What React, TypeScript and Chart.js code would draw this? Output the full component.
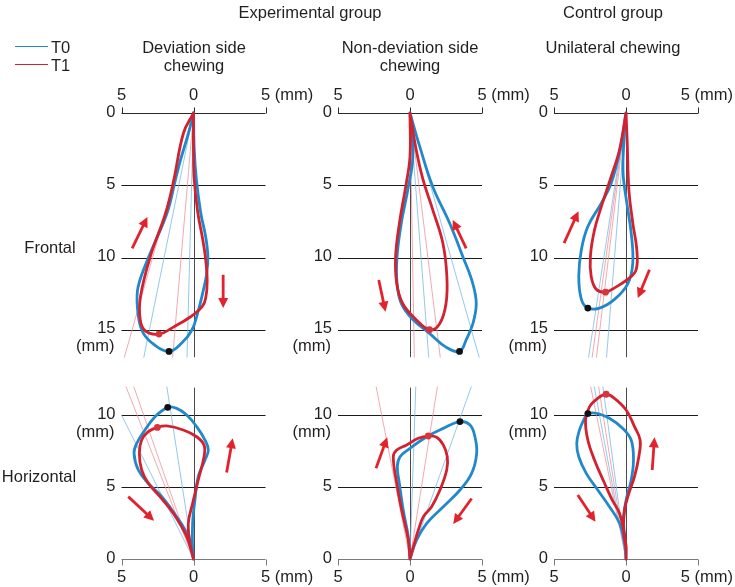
import React, { useEffect, useRef } from "react";
import { Chart, registerables } from "chart.js";

Chart.register(...registerables);

type P = [number, number];

// ---------------- Titles / labels ----------------
const groupTitles = ["Experimental group", "Control group"];
const panelTitles = [["Deviation side", "chewing"], ["Non-deviation side", "chewing"], ["Unilateral chewing"]];
const rowTitles = ["Frontal", "Horizontal"];
const seriesNames = ["T0", "T1"];
const frontalTicks = [0, 5, 10, 15];
const horizontalTicks = [0, 5, 10];
const xTicks = [-5, 0, 5];

// ---------------- Frontal view, deviation side chewing ----------------
const devFrontalT0: P[] = [[0, 0], [0.05, 2.5], [0.2, 4.6], [0.5, 6.9], [0.85, 8.6], [1.0, 10], [0.9, 11.2], [0.7, 12.2], [0.3, 13.8], [-0.1, 15], [-0.8, 15.9], [-1.7, 16.5], [-2.9, 15.9], [-3.6, 15], [-3.9, 13.4], [-3.84, 12], [-3.1, 9.94], [-1.83, 6.9], [-1.25, 4.6], [-0.9, 3.25], [-0.35, 1.4], [0, 0]];
const devFrontalT1: P[] = [[0, 0], [0.0, 2.5], [0.05, 4.6], [0.3, 6.9], [0.65, 8.8], [0.83, 10], [0.95, 11.6], [0.85, 12.8], [0.6, 13.4], [-0.2, 14.1], [-1.37, 14.8], [-2.4, 15.3], [-3.33, 15.1], [-3.7, 14.3], [-3.68, 12.7], [-3.0, 9.94], [-1.94, 6.94], [-1.37, 4.64], [-0.7, 1.4], [0, 0]];
const devFrontalDots: P[] = [[-1.7, 16.5], [-2.4, 15.3]];
const devFrontalThinBlue: P[] = [[-3.45, 16.9], [-0.45, 16.9]];
const devFrontalThinRed: P[] = [[-4.8, 16.9], [-1.45, 16.9]];
const devFrontalArrows: P[][] = [[[-4.26, 9.37], [-3.2, 7.2]], [[2.06, 11.2], [2.06, 13.5]]];

// ---------------- Frontal view, non-deviation side chewing ----------------
const nonFrontalT0: P[] = [[0, 0], [0.2, 3.0], [-0.15, 5.3], [-0.6, 7.6], [-0.9, 9.94], [-0.9, 11.8], [-0.6, 13.2], [0.2, 14.3], [1.35, 15.25], [2.5, 16.2], [3.44, 16.5], [3.9, 15.7], [4.36, 14.6], [4.6, 13.2], [4.36, 11.8], [3.67, 9.94], [2.74, 7.6], [1.58, 5.1], [0.7, 2.4], [0, 0]];
const nonFrontalT1: P[] = [[0, 0], [0, 3], [-0.26, 4.87], [-0.73, 7.6], [-1.0, 9.94], [-0.92, 11.8], [-0.5, 13.2], [0.43, 14.3], [1.35, 15.0], [2.05, 14.6], [2.5, 13.2], [2.56, 11.3], [2.28, 9.0], [1.58, 6.7], [0.9, 4.6], [0.43, 2.55], [0, 0]];
const nonFrontalDots: P[] = [[3.44, 16.5], [1.35, 15.0]];
const nonFrontalThinBlue: P[] = [[1.3, 16.9], [4.8, 16.9]];
const nonFrontalThinRed: P[] = [[0.3, 16.9], [2.1, 16.9]];
const nonFrontalArrows: P[][] = [[[3.9, 9.37], [2.97, 7.4]], [[-2.17, 11.56], [-1.7, 13.75]]];

// ---------------- Frontal view, control unilateral chewing ----------------
const ctlFrontalT0: P[] = [[0, 0], [-0.4, 2.5], [-1.03, 4.87], [-1.72, 6.25], [-2.65, 7.85], [-3.1, 9.46], [-3.28, 11.3], [-3.1, 12.9], [-2.65, 13.5], [-1.84, 13.5], [-0.8, 12.9], [0.13, 11.8], [0.47, 10.4], [0.36, 8.3], [0.06, 6.25], [-0.2, 4.2], [-0.15, 2.0], [0, 0]];
const ctlFrontalT1: P[] = [[0, 0], [0.08, 1.85], [0.2, 5.3], [0.47, 7.6], [0.75, 9.46], [0.7, 10.85], [0.13, 11.5], [-0.8, 12.1], [-1.42, 12.4], [-2.07, 12.2], [-2.42, 11.3], [-2.47, 9.9], [-2.19, 8.1], [-1.72, 6.5], [-1.03, 4.4], [-0.45, 2.54], [0, 0]];
const ctlFrontalDots: P[] = [[-2.65, 13.5], [-1.42, 12.4]];
const ctlFrontalThinBlue: P[] = [[-2.6, 16.9], [-1.35, 16.9]];
const ctlFrontalThinRed: P[] = [[-2.35, 16.9], [-2.05, 16.9]];
const ctlFrontalArrows: P[][] = [[[-4.3, 9.0], [-3.3, 6.8]], [[1.63, 10.85], [0.82, 12.8]]];

// ---------------- Horizontal view, deviation side chewing ----------------
const devHorizT0: P[] = [[0, 0], [-0.36, 1.55], [-1.17, 2.94], [-2.2, 4.33], [-3.14, 5.26], [-3.83, 6.18], [-4.13, 7.34], [-3.94, 8.03], [-3.37, 8.96], [-2.67, 9.88], [-1.79, 10.53], [-1.17, 10.46], [-0.47, 10.0], [0.22, 9.19], [0.8, 8.26], [1.03, 7.57], [0.8, 6.88], [0.33, 5.72], [0.1, 4.1], [-0.06, 2.48], [-0.06, 0.63], [0, 0]];
const devHorizT1: P[] = [[0, 0], [-0.47, 1.55], [-1.4, 3.17], [-2.33, 4.33], [-3.14, 5.26], [-3.6, 6.18], [-3.76, 7.34], [-3.6, 8.26], [-3.14, 8.84], [-2.51, 9.14], [-1.86, 9.24], [-0.71, 8.96], [0.22, 8.49], [0.73, 7.92], [0.73, 7.1], [0.33, 5.49], [-0.06, 3.87], [-0.36, 2.48], [-0.24, 1.09], [0, 0]];
const devHorizDots: P[] = [[-1.79, 10.53], [-2.51, 9.14]];
const devHorizThinBlue: P[] = [[-5.0, 10.0], [-1.85, 11.95]];
const devHorizThinRed: P[] = [[-4.68, 11.95], [-4.14, 11.95]];
const devHorizArrows: P[][] = [[[-4.53, 4.33], [-2.74, 2.66]], [[2.3, 6.0], [2.72, 8.38]]];

// ---------------- Horizontal view, non-deviation side chewing ----------------
const nonHorizT0: P[] = [[0, 0], [-0.12, 1.55], [-0.47, 3.4], [-0.74, 5.26], [-0.88, 6.41], [-0.69, 7.1], [0, 7.68], [1.16, 8.49], [2.31, 9.07], [3.47, 9.54], [4.17, 9.3], [4.51, 8.49], [4.63, 7.34], [4.28, 5.95], [3.47, 4.79], [2.31, 3.63], [1.16, 2.48], [0.46, 1.32], [0, 0]];
const nonHorizT1: P[] = [[0, 0], [-0.12, 1.32], [-0.58, 3.4], [-0.92, 5.26], [-1.16, 7.1], [-0.92, 7.57], [-0.23, 7.92], [0.58, 8.38], [1.27, 8.54], [1.85, 8.45], [2.31, 7.92], [2.59, 7.1], [2.55, 6.18], [2.08, 4.79], [1.5, 3.63], [0.93, 2.94], [0.58, 2.01], [0.3, 1.09], [0, 0]];
const nonHorizDots: P[] = [[3.47, 9.54], [1.27, 8.54]];
const nonHorizThinBlue: P[] = [[0.4, 11.95], [4.25, 11.95]];
const nonHorizThinRed: P[] = [[-2.35, 11.95], [1.9, 11.95]];
const nonHorizArrows: P[][] = [[[-2.36, 6.3], [-1.58, 8.45]], [[4.28, 4.2], [3.0, 2.43]]];

// ---------------- Horizontal view, control unilateral chewing ----------------
const ctlHorizT0: P[] = [[0, 0], [-0.1, 1.09], [-0.45, 2.48], [-1.15, 3.63], [-1.96, 4.79], [-2.76, 5.95], [-3.28, 7.1], [-3.42, 8.03], [-3.23, 8.96], [-2.88, 9.77], [-2.65, 10.1], [-1.96, 10.1], [-1.15, 9.77], [-0.22, 9.07], [0.36, 8.26], [0.52, 6.88], [0.36, 5.49], [0.06, 4.33], [-0.17, 2.94], [-0.1, 1.55], [0, 0]];
const ctlHorizT1: P[] = [[0, 0], [0.01, 0.86], [-0.17, 2.01], [-0.45, 3.17], [-0.96, 4.1], [-1.49, 5.26], [-2.19, 6.88], [-2.65, 8.26], [-2.81, 9.65], [-2.53, 10.58], [-1.96, 11.16], [-1.38, 11.44], [-0.8, 11.16], [0.01, 10.35], [0.59, 9.19], [0.98, 8.26], [0.89, 7.1], [0.59, 5.72], [0.2, 4.56], [-0.1, 3.4], [-0.17, 2.01], [0.01, 0.63], [0, 0]];
const ctlHorizDots: P[] = [[-2.65, 10.1], [-1.38, 11.44]];
const ctlHorizThinBlue: P[] = [[-2.2, 11.95], [-1.6, 11.95]];
const ctlHorizThinRed: P[] = [[-2.45, 11.95], [-1.9, 11.95]];
const ctlHorizArrows: P[][] = [[[-3.35, 4.44], [-2.12, 2.59]], [[1.82, 6.18], [1.98, 8.45]]];

// ---------------- Styling ----------------
const FONT = '"Liberation Sans", Arial, Helvetica, sans-serif';
const FONT_SIZE = 16.5;
const TEXT = "#231f20";
const BLUE = "#2189cb";
const RED = "#d22230";
const ARROW = "#e2232c";
const DOT0 = "#111111";
const DOT1 = "#d9343c";
const THIN_BLUE = "rgba(120,188,230,0.8)";
const THIN_RED = "rgba(238,140,150,0.75)";
const W = 735;
const H = 587;
const centers = [193.5, 410, 626];
const HALF = 72; // half width of the -5..5 range in px
const FRONT_TOP = 113;
const FRONT_MAX = 16.9;
const FRONT_PPM = 14.45;
const HOR_BOTTOM = 559;
const HOR_MAX = 11.9;
const HOR_PPM = 14.4;

type View = "frontal" | "horizontal";
interface PanelDef {
  view: View;
  col: number;
  t0: P[];
  t1: P[];
  dots: P[];
  thinBlue: P[];
  thinRed: P[];
  arrows: P[][];
}

const panels: PanelDef[] = [
  { view: "frontal", col: 0, t0: devFrontalT0, t1: devFrontalT1, dots: devFrontalDots, thinBlue: devFrontalThinBlue, thinRed: devFrontalThinRed, arrows: devFrontalArrows },
  { view: "frontal", col: 1, t0: nonFrontalT0, t1: nonFrontalT1, dots: nonFrontalDots, thinBlue: nonFrontalThinBlue, thinRed: nonFrontalThinRed, arrows: nonFrontalArrows },
  { view: "frontal", col: 2, t0: ctlFrontalT0, t1: ctlFrontalT1, dots: ctlFrontalDots, thinBlue: ctlFrontalThinBlue, thinRed: ctlFrontalThinRed, arrows: ctlFrontalArrows },
  { view: "horizontal", col: 0, t0: devHorizT0, t1: devHorizT1, dots: devHorizDots, thinBlue: devHorizThinBlue, thinRed: devHorizThinRed, arrows: devHorizArrows },
  { view: "horizontal", col: 1, t0: nonHorizT0, t1: nonHorizT1, dots: nonHorizDots, thinBlue: nonHorizThinBlue, thinRed: nonHorizThinRed, arrows: nonHorizArrows },
  { view: "horizontal", col: 2, t0: ctlHorizT0, t1: ctlHorizT1, dots: ctlHorizDots, thinBlue: ctlHorizThinBlue, thinRed: ctlHorizThinRed, arrows: ctlHorizArrows },
];

const toXY = (pts: P[]) => pts.map(([x, y]) => ({ x, y }));

const panelPlugin = {
  id: "panelAxes",
  beforeDatasetsDraw(chart: any, _args: any, opts: any) {
    const { ctx } = chart;
    const xs = chart.scales.x;
    const ys = chart.scales.y;
    const view: View = opts.view;
    const xl = xs.getPixelForValue(-5);
    const xr = xs.getPixelForValue(5);
    const x0 = Math.round(xs.getPixelForValue(0)) + 0.5;
    const y0 = Math.round(ys.getPixelForValue(0)) + 0.5;
    const yEnd = ys.getPixelForValue(ys.max);
    const line = (a: number, b: number, c: number, d: number) => {
      ctx.beginPath();
      ctx.moveTo(a, b);
      ctx.lineTo(c, d);
      ctx.stroke();
    };
    ctx.save();
    ctx.lineWidth = 1;
    const grid = view === "frontal" ? frontalTicks : horizontalTicks;
    // horizontal grid lines
    ctx.strokeStyle = "#1a1a1a";
    grid.forEach((g) => {
      if (g === 0) return;
      const py = Math.round(ys.getPixelForValue(g)) + 0.5;
      line(xl, py, xr, py);
    });
    // zero vertical line
    ctx.strokeStyle = "#4a4a4a";
    line(x0, y0, x0, yEnd);
    // axis at 0 with ticks
    ctx.strokeStyle = view === "frontal" ? "#2a2a2a" : "#7a7a7a";
    line(xl, y0, xr, y0);
    const dir = view === "frontal" ? -1 : 1;
    xTicks.forEach((t) => {
      const px = Math.round(xs.getPixelForValue(t)) + 0.5;
      line(px, y0, px, y0 + dir * 6);
    });
    // tick labels
    ctx.fillStyle = TEXT;
    ctx.font = `${FONT_SIZE}px ${FONT}`;
    ctx.textBaseline = "middle";
    const ly = view === "frontal" ? y0 - 18 : y0 + 18;
    const maxRight = chart.width - 2;
    xTicks.forEach((t, i) => {
      const px = xs.getPixelForValue(t);
      const s = String(Math.abs(t));
      if (i === xTicks.length - 1) {
        const full = s + " (mm)";
        const w = ctx.measureText(s).width;
        const fw = ctx.measureText(full).width;
        let start = px - w / 2;
        if (start + fw > maxRight) start = maxRight - fw;
        ctx.textAlign = "left";
        ctx.fillText(full, start, ly);
      } else {
        ctx.textAlign = "center";
        ctx.fillText(s, px, ly);
      }
    });
    // left labels
    ctx.textAlign = "right";
    grid.forEach((g, i) => {
      const py = ys.getPixelForValue(g);
      ctx.fillText(String(g), xl - 6, py - 1);
      if (i === grid.length - 1) ctx.fillText("(mm)", xl - 7, py + 17);
    });
    ctx.restore();
  },
  afterDatasetsDraw(chart: any) {
    const { ctx } = chart;
    chart.data.datasets.forEach((ds: any, i: number) => {
      if (!ds.arrow) return;
      const meta = chart.getDatasetMeta(i);
      const a = meta.data[0];
      const b = meta.data[1];
      if (!a || !b) return;
      const ang = Math.atan2(b.y - a.y, b.x - a.x);
      const head = 10;
      const half = 5;
      const cx = Math.cos(ang);
      const sy = Math.sin(ang);
      ctx.save();
      ctx.strokeStyle = ARROW;
      ctx.fillStyle = ARROW;
      ctx.lineWidth = 2.8;
      ctx.beginPath();
      ctx.moveTo(a.x, a.y);
      ctx.lineTo(b.x - cx * head * 0.8, b.y - sy * head * 0.8);
      ctx.stroke();
      const bx = b.x - cx * head;
      const by = b.y - sy * head;
      ctx.beginPath();
      ctx.moveTo(b.x, b.y);
      ctx.lineTo(bx - sy * half, by + cx * half);
      ctx.lineTo(bx + sy * half, by - cx * half);
      ctx.closePath();
      ctx.fill();
      ctx.restore();
    });
  },
};

function buildConfig(p: PanelDef): any {
  const c = centers[p.col];
  const frontal = p.view === "frontal";
  const padding = frontal
    ? { left: c - HALF, right: W - (c + HALF), top: FRONT_TOP, bottom: H - (FRONT_TOP + FRONT_MAX * FRONT_PPM) }
    : { left: c - HALF, right: W - (c + HALF), top: HOR_BOTTOM - HOR_MAX * HOR_PPM, bottom: H - HOR_BOTTOM };
  const datasets: any[] = [];
  p.thinRed.forEach((e) =>
    datasets.push({ data: toXY([[0, 0], e]), showLine: true, borderColor: THIN_RED, borderWidth: 1, pointRadius: 0, order: 6, clip: false })
  );
  p.thinBlue.forEach((e) =>
    datasets.push({ data: toXY([[0, 0], e]), showLine: true, borderColor: THIN_BLUE, borderWidth: 1, pointRadius: 0, order: 5, clip: false })
  );
  datasets.push({ label: seriesNames[0], data: toXY(p.t0), showLine: true, borderColor: BLUE, borderWidth: 2.8, tension: 0.4, pointRadius: 0, order: 4, clip: false });
  datasets.push({ label: seriesNames[1], data: toXY(p.t1), showLine: true, borderColor: RED, borderWidth: 2.8, tension: 0.4, pointRadius: 0, order: 3, clip: false });
  datasets.push({ data: toXY([p.dots[0]]), showLine: false, pointRadius: 3.4, pointBackgroundColor: DOT0, pointBorderWidth: 0, order: 1, clip: false });
  datasets.push({ data: toXY([p.dots[1]]), showLine: false, pointRadius: 3.4, pointBackgroundColor: DOT1, pointBorderWidth: 0, order: 1, clip: false });
  p.arrows.forEach((a) =>
    datasets.push({ data: toXY(a), arrow: true, showLine: false, pointRadius: 0, order: 0, clip: false })
  );
  return {
    type: "scatter",
    data: { datasets },
    options: {
      responsive: false,
      animation: false,
      events: [],
      layout: { padding },
      scales: {
        x: { type: "linear", min: -5, max: 5, display: false },
        y: { type: "linear", min: 0, max: frontal ? FRONT_MAX : HOR_MAX, reverse: frontal, display: false },
      },
      elements: { line: { capBezierPoints: false, borderCapStyle: "round", borderJoinStyle: "round" } },
      plugins: { legend: { display: false }, tooltip: { enabled: false }, title: { display: false }, panelAxes: { view: p.view } },
    },
    plugins: [panelPlugin],
  };
}

const textStyle: React.CSSProperties = {
  position: "absolute",
  transform: "translate(-50%, -50%)",
  whiteSpace: "nowrap",
  fontFamily: FONT,
  fontSize: FONT_SIZE,
  color: TEXT,
  lineHeight: "18px",
  textAlign: "center",
};

export default function App() {
  const refs = useRef<(HTMLCanvasElement | null)[]>([]);
  useEffect(() => {
    const charts = panels.map((p, i) => new Chart(refs.current[i] as HTMLCanvasElement, buildConfig(p)));
    return () => charts.forEach((c) => c.destroy());
  }, []);

  return (
    <div style={{ position: "absolute", left: 0, top: 0, width: W, height: H, background: "#fff", overflow: "hidden" }}>
      {panels.map((_, i) => (
        <canvas
          key={i}
          ref={(el) => {
            refs.current[i] = el;
          }}
          width={W}
          height={H}
          style={{ position: "absolute", left: 0, top: 0, width: W, height: H }}
        />
      ))}
      <div style={{ ...textStyle, left: 310, top: 12 }}>{groupTitles[0]}</div>
      <div style={{ ...textStyle, left: 613, top: 12 }}>{groupTitles[1]}</div>
      <div style={{ ...textStyle, left: 194, top: 56 }}>
        {panelTitles[0][0]}
        <br />
        {panelTitles[0][1]}
      </div>
      <div style={{ ...textStyle, left: 410, top: 56 }}>
        {panelTitles[1][0]}
        <br />
        {panelTitles[1][1]}
      </div>
      <div style={{ ...textStyle, left: 613, top: 47 }}>{panelTitles[2][0]}</div>
      <div style={{ ...textStyle, left: 50, top: 247 }}>{rowTitles[0]}</div>
      <div style={{ ...textStyle, left: 39, top: 476 }}>{rowTitles[1]}</div>
      <div style={{ position: "absolute", left: 15, top: 46, width: 33, borderTop: `1.5px solid ${BLUE}` }} />
      <div style={{ position: "absolute", left: 15, top: 64, width: 33, borderTop: `1.5px solid ${RED}` }} />
      <div style={{ ...textStyle, transform: "translate(0, -50%)", left: 51, top: 47 }}>{seriesNames[0]}</div>
      <div style={{ ...textStyle, transform: "translate(0, -50%)", left: 51, top: 65 }}>{seriesNames[1]}</div>
    </div>
  );
}
